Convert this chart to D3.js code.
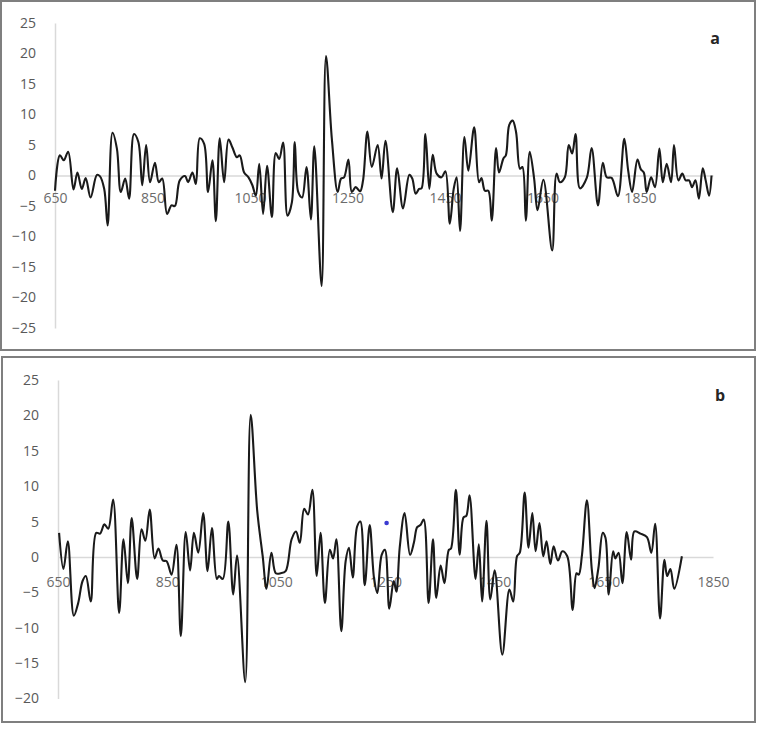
<!DOCTYPE html>
<html>
<head>
<meta charset="utf-8">
<script src="https://d3js.org/d3.v7.min.js"></script>
<style>
  body { margin: 0; background: #fff; }
  svg { display: block; }
</style>
</head>
<body>
<svg id="chart"></svg>
<script>
// series
const yearsA = [650,660,668,677,688,696,705,713,723,736,742,751,758,768,777,785,794,802,812,821,
  829,837,845,855,863,870,880,889,896,906,917,923,932,939,947,956,964,973,980,988,
  997,1006,1014,1023,1029,1038,1047,1055,1062,1069,1077,1085,1095,1103,1110,1118,1127,1136,1142,1149,
  1157,1166,1175,1182,1197,1206,1218,1230,1237,1243,1252,1259,1267,1276,1282,1291,1300,1312,1320,1328,
  1343,1352,1364,1377,1383,1390,1397,1402,1410,1418,1425,1433,1443,1451,1460,1468,1474,1481,1490,1498,
  1510,1520,1525,1532,1539,1546,1555,1561,1570,1575,1582,1589,1596,1604,1609,1616,1624,1633,1640,1652,
  1670,1679,1686,1696,1704,1711,1718,1727,1741,1751,1764,1774,1782,1792,1805,1818,1826,1834,1845,1852,
  1858,1864,1873,1881,1890,1897,1905,1914,1920,1929,1937,1944,1951,1957,1964,1971,1979,1985,1992,1997];
const valuesA = [-2.5,3.3,2.5,3.9,-2.3,0.5,-2.2,-0.4,-3.6,0.1,-0.1,-2.2,-8.2,7.0,4.4,-2.7,-0.5,-3.8,6.8,5.5,
  -1.6,5.0,-1.1,2.1,-1.1,-0.5,-6.3,-4.9,-5.0,-0.8,-0.1,-1.1,0.5,-1.4,6.1,5.2,-2.7,2.5,-7.5,6.1,
  -1.1,5.9,4.6,3.0,3.3,0.5,-0.3,-1.6,-3.3,1.9,-6.3,1.6,-6.8,3.7,2.7,5.4,-6.6,-4.4,5.5,-2.7,
  -3.6,1.4,-7.2,4.8,-18.1,19.6,6.0,-2.7,-0.5,-0.3,2.6,-2.7,-1.9,-2.6,-0.8,7.2,1.4,5.0,-0.5,5.7,
  -6.0,1.2,-5.4,0.1,-0.5,-3.0,-2.2,-2.1,6.8,-2.2,3.4,0.3,-0.3,0.7,-7.9,-2.2,-0.3,-9.1,6.3,0.8,
  7.9,-1.1,-0.4,-2.5,-2.5,-7.4,4.5,0.5,2.8,3.3,8.3,9.0,7.1,1.1,1.4,-7.4,3.9,-0.5,-5.7,-0.7,
  -12.3,0.3,-1.1,-0.3,5.0,3.6,6.8,-2.1,-0.4,4.5,-4.9,2.1,-0.3,-0.4,-3.4,6.0,0.8,-2.7,2.6,1.0,
  0.5,-2.7,-0.3,-1.9,4.4,-1.1,1.9,-1.1,5.0,-0.8,0.3,-0.8,-0.8,-1.9,-0.8,-3.8,1.2,-0.8,-3.3,0];

const yearsB = [652,660,668,679,687,695,701,710,720,727,735,742,751,762,770,778,785,795,803,810,
  818,827,834,842,849,858,867,875,884,892,899,907,916,924,932,941,945,952,962,971,
  978,993,1003,1015,1025,1032,1041,1049,1058,1067,1078,1086,1093,1101,1108,1116,1124,1131,1139,1148,
  1154,1160,1169,1177,1183,1190,1198,1204,1212,1221,1229,1235,1243,1249,1257,1265,1270,1276,1285,1295,
  1302,1308,1314,1320,1329,1337,1343,1351,1358,1366,1370,1379,1386,1393,1398,1404,1415,1421,1427,1435,
  1442,1450,1464,1477,1484,1491,1496,1505,1512,1519,1525,1532,1539,1545,1552,1558,1566,1574,1583,1593,
  1600,1604,1610,1619,1628,1633,1640,1648,1653,1659,1667,1671,1677,1684,1692,1700,1706,1717,1729,1737,
  1744,1753,1761,1766,1772,1779,1793];
const valuesB = [3.4,-1.7,2.2,-8.3,-6.5,-3.4,-2.7,-6.3,3.4,3.3,4.6,4.0,8.1,-7.9,2.5,-3.7,5.5,-3.1,3.9,2.3,
  6.7,-0.2,1.2,-0.5,-0.6,-2.5,1.7,-11.2,3.5,-1.9,3.4,0.6,6.2,-2.0,4.1,-3.1,-2.7,-3.1,5.0,-5.3,
  0.2,-17.7,20.1,6.5,0.1,-4.5,0.6,-2.3,-2.3,-2.0,2.5,3.6,2.0,6.8,6.0,9.5,-2.7,3.4,-6.5,1.0,
  -0.2,2.5,-10.5,-0.6,1.3,-2.9,4.3,5.0,-4.0,4.5,-3.0,-5.1,0.3,1.0,-7.3,-3.4,-4.9,1.3,6.2,0.3,
  2.0,4.2,4.5,5.3,-6.5,2.5,-5.8,-1.2,-3.7,1.0,1.2,9.5,0.3,5.6,5.8,8.7,-3.1,1.8,-6.3,5.1,
  -6.0,-1.9,-13.8,-4.6,-6.3,0.1,0.6,9.1,1.3,6.2,0.8,4.8,0.1,2.2,-1.0,1.5,-0.5,0.8,0.1,-7.5,
  -2.3,-2.5,0.3,8.0,-1.8,-4.4,-1.6,3.4,2.7,-5.3,0.8,-0.2,0.6,-3.7,3.5,-0.4,3.6,3.3,2.8,0.6,
  4.7,-8.7,-0.4,-2.7,-1.7,-4.5,0.1];

// the stray blue point in panel b
const strayB = [{ x: 1252, y: 4.8 }];

const xTicks = [650, 850, 1050, 1250, 1450, 1650, 1850];
const yTicksA = [25, 20, 15, 10, 5, 0, -5, -10, -15, -20, -25];
const yTicksB = [25, 20, 15, 10, 5, 0, -5, -10, -15, -20];

const width = 759, height = 730;
const svg = d3.select("#chart").attr("width", width).attr("height", height);
const font = "'Open Sans', 'DejaVu Sans', sans-serif";

function drawPanel(p) {
  const g = svg.append("g");
  g.append("rect")
    .attr("x", p.box[0]).attr("y", p.box[1])
    .attr("width", p.box[2]).attr("height", p.box[3])
    .attr("fill", "#fff").attr("stroke", "#7f7f7f").attr("stroke-width", 2);

  const x = d3.scaleLinear().domain(p.xDomain).range(p.xRange);
  const y = d3.scaleLinear().domain(p.yDomain).range(p.yRange);

  const yAxis = g.append("g")
    .attr("transform", `translate(${p.xRange[0]},0)`)
    .call(d3.axisLeft(y).tickValues(p.yTicks).tickSize(0).tickSizeOuter(0).tickPadding(19));
  yAxis.select(".domain").attr("stroke", "#d9d9d9").attr("stroke-width", 1.5);
  yAxis.selectAll("text").attr("fill", "#595959").style("font-family", font).style("font-size", "14px");

  const xAxis = g.append("g")
    .attr("transform", `translate(0,${y(0)})`)
    .call(d3.axisBottom(x).tickValues(xTicks).tickFormat(d3.format("d")).tickSize(0).tickSizeOuter(0).tickPadding(p.xPad));
  xAxis.select(".domain").attr("stroke", "#d9d9d9").attr("stroke-width", 1.5);
  xAxis.selectAll("text").attr("fill", "#6b6b6b").style("font-family", font).style("font-size", "14px");

  const line = d3.line()
    .x(d => x(d[0]))
    .y(d => y(d[1]))
    .curve(d3.curveCatmullRom.alpha(0.5));
  g.append("path")
    .datum(d3.zip(p.years, p.values))
    .attr("fill", "none")
    .attr("stroke", "#1a1a1a")
    .attr("stroke-width", 2.1)
    .attr("stroke-linejoin", "round")
    .attr("d", line);

  if (p.extra) {
    g.selectAll("circle.extra")
      .data(p.extra)
      .join("circle")
      .attr("class", "extra")
      .attr("cx", d => x(d.x))
      .attr("cy", d => y(d.y))
      .attr("r", 2.3)
      .attr("fill", "#3b3bd1");
  }

  g.append("text")
    .attr("x", p.tag[0]).attr("y", p.tag[1])
    .attr("text-anchor", "middle")
    .attr("dominant-baseline", "middle")
    .style("font-family", font)
    .style("font-size", "16px")
    .style("font-weight", "bold")
    .attr("fill", "#262626")
    .text(p.label);
}

drawPanel({
  box: [1, 1, 754, 349],
  years: yearsA, values: valuesA,
  xDomain: [650, 2000], xRange: [55, 713],
  yDomain: [-25, 25], yRange: [328, 23],
  yTicks: yTicksA, xPad: 18,
  tag: [715, 40], label: "a"
});

drawPanel({
  box: [2, 357, 753, 365],
  years: yearsB, values: valuesB,
  xDomain: [650, 1850], xRange: [58, 713],
  yDomain: [-20, 25], yRange: [698.5, 380],
  yTicks: yTicksB, xPad: 20,
  extra: strayB,
  tag: [720, 397], label: "b"
});
</script>
</body>
</html>
